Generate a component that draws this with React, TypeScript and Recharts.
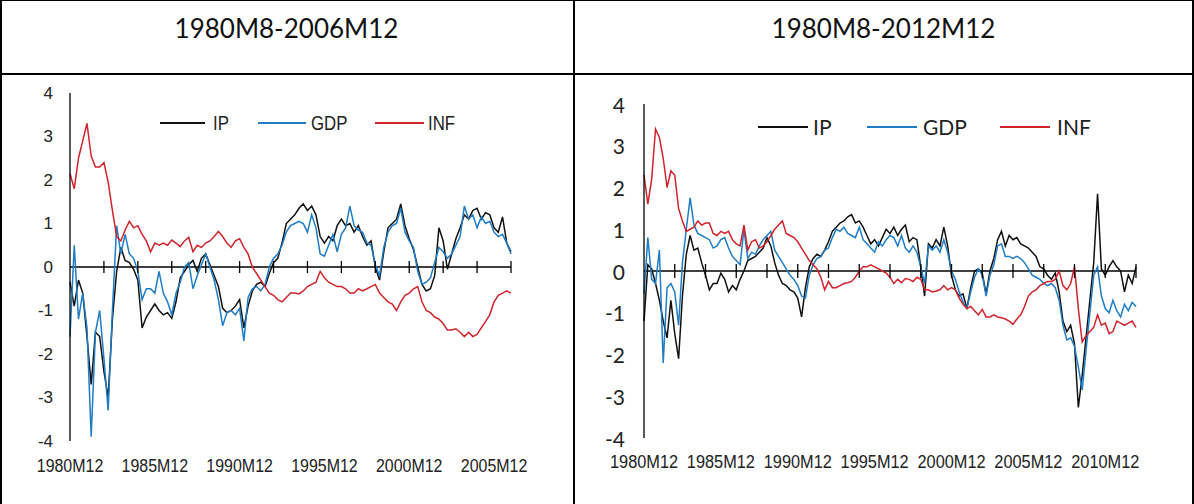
import React from 'react';
import { LineChart, Line, XAxis, YAxis, ReferenceLine, ReferenceDot } from 'recharts';

const STEP = 3;

// Left panel: 1980M12 .. 2006M12
const L_IP = [
  -0.35, -0.9, -0.3, -0.6, -1.6, -2.7, -1.5, -1.6, -2.4, -3.0,
  -1.2, -0.1, 0.45, 0.15, 0.1, -0.05, -0.3, -1.4, -1.15, -1.0,
  -0.85, -1.0, -1.1, -1.05, -1.18, -0.8, -0.25, -0.1, 0.05, 0.15,
  -0.1, 0.2, 0.3, 0.05, -0.2, -0.45, -0.95, -1.05, -1.0, -0.9,
  -0.75, -1.4, -0.9, -0.55, -0.4, -0.35, -0.45, -0.15, 0.1, 0.2,
  0.55, 1.0, 1.1, 1.2, 1.35, 1.45, 1.3, 1.4, 1.2, 0.7,
  0.55, 0.7, 0.6, 0.95, 1.1, 0.95, 1.0, 0.8, 0.95, 0.7,
  0.5, 0.6, 0.0, -0.3, 0.35, 0.9, 1.0, 1.1, 1.45, 0.95,
  0.65, 0.4, 0.0, -0.4, -0.55, -0.5, -0.2, 0.9, 0.6, -0.05,
  0.3, 0.65, 0.9, 1.2, 1.1, 1.3, 1.35, 1.1, 1.25, 1.2,
  0.9, 0.8, 1.15, 0.55, 0.35,
];
const L_GDP = [
  -1.6, 0.5, -1.2, -0.6, -1.4, -3.9, -1.5, -1.0, -2.1, -3.3,
  -1.0, 0.95, 0.3, 0.75, 0.3, 0.2, -0.1, -0.75, -0.5, -0.5,
  -0.6, -0.1, -0.6, -0.8, -1.1, -0.6, -0.35, 0.0, 0.1, -0.5,
  -0.2, 0.05, 0.3, 0.0, -0.3, -0.75, -1.35, -1.05, -1.0, -1.1,
  -0.95, -1.7, -0.7, -0.5, -0.45, -0.55, -0.4, 0.0, 0.2, 0.3,
  0.5, 0.8, 0.95, 1.0, 1.05, 1.0, 0.8, 1.2, 0.9, 0.3,
  0.25, 0.5, 0.75, 0.35, 0.75, 0.9, 1.4, 0.95, 0.85, 0.8,
  0.55, 0.5, 0.05, -0.2, 0.45, 0.8, 0.95, 1.0, 1.35, 0.8,
  0.6, 0.45, -0.1, -0.4, -0.35, -0.25, 0.1, 0.45, 0.35, 0.2,
  0.3, 0.5, 0.7, 1.4, 1.1, 1.2, 0.9, 1.15, 1.0, 1.05,
  0.8, 0.7, 0.75, 0.55, 0.3,
];
const L_INF = [
  2.15, 1.8, 2.5, 2.9, 3.3, 2.55, 2.3, 2.3, 2.4, 1.95,
  1.3, 0.7, 0.6, 0.85, 1.05, 0.9, 0.95, 0.75, 0.6, 0.35,
  0.55, 0.5, 0.55, 0.5, 0.62, 0.55, 0.47, 0.6, 0.68, 0.35,
  0.5, 0.45, 0.55, 0.6, 0.7, 0.82, 0.7, 0.55, 0.45, 0.6,
  0.65, 0.45, 0.3, 0.0, -0.15, -0.3, -0.45, -0.6, -0.65, -0.75,
  -0.8, -0.7, -0.6, -0.6, -0.62, -0.55, -0.45, -0.4, -0.35, -0.1,
  -0.25, -0.35, -0.4, -0.45, -0.45, -0.5, -0.6, -0.6, -0.5, -0.55,
  -0.5, -0.45, -0.4, -0.6, -0.7, -0.8, -0.85, -1.0, -0.8, -0.65,
  -0.6, -0.5, -0.45, -0.8, -1.0, -1.05, -1.15, -1.2, -1.3, -1.45,
  -1.45, -1.42, -1.5, -1.6, -1.5, -1.6, -1.55, -1.4, -1.25, -1.1,
  -0.8, -0.65, -0.6, -0.55, -0.6,
];

// Right panel: 1980M12 .. 2012M12
const R_IP = [
  -1.2, 0.15, 0.05, -0.3, -0.7, -1.2, -1.6, -0.7, -1.5, -2.1,
  -0.6, 0.4, 0.85, 0.5, 0.55, 0.2, -0.1, -0.45, -0.3, -0.3,
  -0.05, -0.2, -0.5, -0.35, -0.45, -0.2, 0.0, 0.25, 0.3, 0.35,
  0.45, 0.55, 0.8, 0.6, 0.2, -0.1, -0.3, -0.35, -0.45, -0.5,
  -0.65, -1.1, -0.4, 0.1, 0.3, 0.4, 0.35, 0.5, 0.7, 0.95,
  1.05, 1.15, 1.2, 1.3, 1.35, 1.15, 1.2, 1.05, 0.85, 0.65,
  0.75, 0.6, 0.8, 1.0, 0.9, 1.05, 0.85, 1.0, 1.1, 0.7,
  0.8, 0.75, 0.1, -0.6, 0.65, 0.55, 0.75, 0.6, 1.05, 0.6,
  -0.1, -0.45, -0.6, -0.55, -0.9, -0.4, 0.0, 0.05, -0.05, -0.55,
  0.0, 0.3, 0.75, 0.95, 0.6, 0.85, 0.75, 0.8, 0.65, 0.6,
  0.55, 0.45, 0.35, 0.1, 0.05, -0.1, -0.2, -0.05, -0.5, -1.2,
  -1.45, -1.3, -1.75, -3.27, -2.5, -1.6, -0.7, 0.2, 1.85, 0.05,
  -0.1, 0.1, 0.25, 0.1, 0.0, -0.5, -0.1, -0.3, 0.1,
];
const R_GDP = [
  -0.55, 0.8, -0.2, -0.3, 0.5, -2.2, -0.4, -0.3, -0.5, -1.3,
  0.2, 1.0, 1.75, 1.1, 0.9, 0.85, 0.8, 0.75, 0.55, 0.6,
  0.75, 0.8, 0.55, 0.35, 0.25, 0.15, 1.0, 0.3, 0.45, 0.4,
  0.6, 0.75, 0.85, 0.95, 0.5, 0.35, 0.2, 0.05, -0.1, -0.2,
  -0.35, -0.6, -0.65, -0.1, 0.15, 0.3, 0.35, 0.5, 0.55, 0.8,
  1.0, 0.95, 1.05, 0.9, 0.85, 0.8, 1.05, 0.75, 0.65, 0.55,
  0.45, 0.7, 0.6, 0.75, 0.85, 0.8, 0.6, 0.85, 0.55, 0.45,
  0.6, 0.45, 0.1, -0.3, 0.6, 0.5, 0.6, 0.45, 0.75, 0.45,
  0.0, -0.2, -0.5, -0.75, -0.9, -0.5, -0.15, 0.05, -0.1, -0.6,
  -0.1, 0.15, 0.6, 0.65, 0.35, 0.35, 0.3, 0.35, 0.3, 0.2,
  0.05, -0.1, -0.15, -0.2, -0.3, -0.35, -0.3, -0.4, -0.7, -1.3,
  -1.65, -1.6, -1.8, -2.3, -2.85, -1.9, -1.0, -0.1, 0.1, -0.6,
  -0.9, -1.0, -0.7, -0.95, -1.1, -0.8, -0.95, -0.75, -0.85,
];
const R_INF = [
  2.3, 1.6, 2.2, 3.4, 3.2, 2.7, 2.0, 2.4, 2.3, 1.5,
  1.2, 0.95, 1.0, 1.05, 1.2, 1.1, 1.15, 1.15, 0.9, 0.85,
  0.95, 0.9, 0.95, 0.75, 0.65, 0.6, 1.1, 0.5, 0.7, 0.75,
  0.55, 0.6, 0.7, 0.85, 1.0, 1.1, 1.2, 0.9, 0.85, 0.8,
  0.7, 0.55, 0.4, 0.25, 0.15, 0.05, -0.15, -0.45, -0.25, -0.4,
  -0.4, -0.35, -0.3, -0.28, -0.25, -0.15, 0.0, 0.1, 0.1, 0.15,
  0.1, 0.05, 0.0, -0.05, -0.15, -0.3, -0.2, -0.28, -0.18, -0.2,
  -0.25, -0.15, -0.2, -0.45, -0.45, -0.5, -0.48, -0.45, -0.35, -0.45,
  -0.4, -0.45, -0.65, -0.8, -0.9, -0.85, -0.95, -1.05, -0.92, -1.1,
  -1.1, -1.05, -1.1, -1.12, -1.15, -1.2, -1.28, -1.15, -1.05, -0.85,
  -0.6, -0.5, -0.45, -0.35, -0.3, -0.25, -0.25, -0.2, 0.0, -0.35,
  -0.45, -0.3, 0.1, -0.9, -1.7, -1.55, -1.45, -1.35, -1.05, -1.3,
  -1.25, -1.5, -1.45, -1.2, -1.25, -1.3, -1.25, -1.2, -1.35,
];

const L_TITLE = '1980M8-2006M12';
const R_TITLE = '1980M8-2012M12';
const L_XTICKS = [0, 60, 120, 180, 240, 300];
const L_XLABELS = ['1980M12', '1985M12', '1990M12', '1995M12', '2000M12', '2005M12'];
const R_XTICKS = [0, 60, 120, 180, 240, 300, 360];
const R_XLABELS = ['1980M12', '1985M12', '1990M12', '1995M12', '2000M12', '2005M12', '2010M12'];
const Y_TICKS = [-4, -3, -2, -1, 0, 1, 2, 3, 4];
const L_ZERO_TICKS = [24, 48, 72, 96, 120, 144, 168, 192, 216, 240, 264, 288, 312];
const R_ZERO_TICKS = [24, 48, 72, 96, 120, 144, 168, 192, 216, 240, 264, 288, 312, 336, 360, 384];

const SERIES = [
  { key: 'IP', color: '#111111' },
  { key: 'GDP', color: '#1f7cc6' },
  { key: 'INF', color: '#d0232b' },
];

const build = (ip: number[], gdp: number[], inf: number[]) =>
  ip.map((v, i) => ({ m: i * STEP, IP: v, GDP: gdp[i], INF: inf[i] }));

const L_DATA = build(L_IP, L_GDP, L_INF);
const R_DATA = build(R_IP, R_GDP, R_INF);

// ---------- styling / geometry ----------
const ARIAL = '"Liberation Sans", Arial, sans-serif';
const CALIBRI = 'Lato, "Open Sans", sans-serif';

type PanelCfg = {
  left: number; top: number; width: number; height: number;
  margin: { top: number; right: number; bottom: number; left: number };
  yAxisWidth: number; xMax: number;
  data: any[]; xTicks: number[]; xLabels: string[]; zeroTicks: number[];
  yGap: number; yFont: string; ySize: number;
  xDy: number; xSize: number; xScale: number;
  tickHalf: number;
};

const LEFT: PanelCfg = {
  left: 0, top: 74, width: 573, height: 430,
  margin: { top: 19, right: 62, bottom: 23, left: 0 },
  yAxisWidth: 70, xMax: 312,
  data: L_DATA, xTicks: L_XTICKS, xLabels: L_XLABELS, zeroTicks: L_ZERO_TICKS,
  yGap: 17, yFont: ARIAL, ySize: 17,
  xDy: 25, xSize: 19, xScale: 0.84,
  tickHalf: 6,
};

const RIGHT: PanelCfg = {
  left: 575, top: 74, width: 619, height: 430,
  margin: { top: 30, right: 58, bottom: 26, left: 0 },
  yAxisWidth: 69, xMax: 384,
  data: R_DATA, xTicks: R_XTICKS, xLabels: R_XLABELS, zeroTicks: R_ZERO_TICKS,
  yGap: 19, yFont: CALIBRI, ySize: 21,
  xDy: 24, xSize: 19, xScale: 0.86,
  tickHalf: 7,
};

function Panel({ cfg }: { cfg: PanelCfg }) {
  const yTick = (p: any) => (
    <text x={p.x - cfg.yGap} y={p.y} textAnchor="end" dominantBaseline="central"
      fontFamily={cfg.yFont} fontSize={cfg.ySize} fill="#222">{p.payload.value}</text>
  );
  const xTick = (p: any) => {
    const idx = cfg.xTicks.indexOf(p.payload.value);
    return (
      <text transform={`translate(${p.x},${p.y + cfg.xDy}) scale(${cfg.xScale},1)`} x={0} y={0}
        textAnchor="middle" dominantBaseline="central"
        fontFamily={ARIAL} fontSize={cfg.xSize} fill="#222">{cfg.xLabels[idx]}</text>
    );
  };
  const tickShape = (p: any) => (
    <line x1={p.cx} x2={p.cx} y1={p.cy - cfg.tickHalf} y2={p.cy + cfg.tickHalf} stroke="#000" strokeWidth={1.3} />
  );
  return (
    <div style={{ position: 'absolute', left: cfg.left, top: cfg.top }}>
      <LineChart width={cfg.width} height={cfg.height} data={cfg.data} margin={cfg.margin}>
        <XAxis dataKey="m" type="number" domain={[0, cfg.xMax]} ticks={cfg.xTicks} interval={0}
          axisLine={false} tickLine={false} tickSize={0} tickMargin={0} height={40} tick={xTick} />
        <YAxis type="number" domain={[-4, 4]} ticks={Y_TICKS} interval={0} width={cfg.yAxisWidth}
          axisLine={{ stroke: '#000', strokeWidth: 1.3 }} tickLine={false} tickSize={0} tickMargin={0} tick={yTick} />
        <ReferenceLine y={0} stroke="#000" strokeWidth={1.3} />
        {cfg.zeroTicks.map((t) => (
          <ReferenceDot key={t} x={t} y={0} r={6} shape={tickShape} />
        ))}
        {SERIES.map((s) => (
          <Line key={s.key} dataKey={s.key} type="linear" stroke={s.color} strokeWidth={1.5}
            dot={false} activeDot={false} isAnimationActive={false} />
        ))}
      </LineChart>
    </div>
  );
}

type LegendPos = { line: [number, number]; text: number };
const L_LEGEND: LegendPos[] = [
  { line: [160, 205], text: 213 },
  { line: [258, 306], text: 311 },
  { line: [375, 424], text: 428 },
];
const R_LEGEND: LegendPos[] = [
  { line: [758, 808], text: 813 },
  { line: [867, 917], text: 923 },
  { line: [1000, 1050], text: 1057 },
];

function LegendRow({ pos, y, font, size, scale }: { pos: LegendPos[]; y: number; font: string; size: number; scale: number }) {
  return (
    <>
      {SERIES.map((s, i) => (
        <React.Fragment key={s.key}>
          <div style={{ position: 'absolute', left: pos[i].line[0], top: y - 1, width: pos[i].line[1] - pos[i].line[0], height: 2, background: s.color }} />
          <div style={{ position: 'absolute', left: pos[i].text, top: y - size * 0.6, fontFamily: font, fontSize: size, lineHeight: `${size * 1.2}px`, color: '#222', whiteSpace: 'nowrap', transform: `scaleX(${scale})`, transformOrigin: 'left center' }}>{s.key}</div>
        </React.Fragment>
      ))}
    </>
  );
}

export default function App() {
  const border = '#000';
  return (
    <div style={{ position: 'absolute', left: 0, top: 0, width: 1194, height: 504, background: '#fff', overflow: 'hidden' }}>
      {/* table lines */}
      <div style={{ position: 'absolute', left: 0, top: 0, width: 1194, height: 1, background: border }} />
      <div style={{ position: 'absolute', left: 0, top: 0, width: 2, height: 504, background: border }} />
      <div style={{ position: 'absolute', left: 1192, top: 0, width: 2, height: 504, background: border }} />
      <div style={{ position: 'absolute', left: 573, top: 0, width: 2, height: 504, background: border }} />
      <div style={{ position: 'absolute', left: 0, top: 73, width: 1194, height: 2, background: border }} />
      {/* titles */}
      <div style={{ position: 'absolute', left: 0, width: 573, top: 10, textAlign: 'center', fontFamily: CALIBRI, fontSize: 26, lineHeight: '36px', color: '#111' }}>{L_TITLE}</div>
      <div style={{ position: 'absolute', left: 575, width: 617, top: 10, textAlign: 'center', fontFamily: CALIBRI, fontSize: 26, lineHeight: '36px', color: '#111' }}>{R_TITLE}</div>
      <Panel cfg={LEFT} />
      <Panel cfg={RIGHT} />
      <LegendRow pos={L_LEGEND} y={123} font={ARIAL} size={21} scale={0.8} />
      <LegendRow pos={R_LEGEND} y={127} font={CALIBRI} size={21} scale={1} />
    </div>
  );
}
